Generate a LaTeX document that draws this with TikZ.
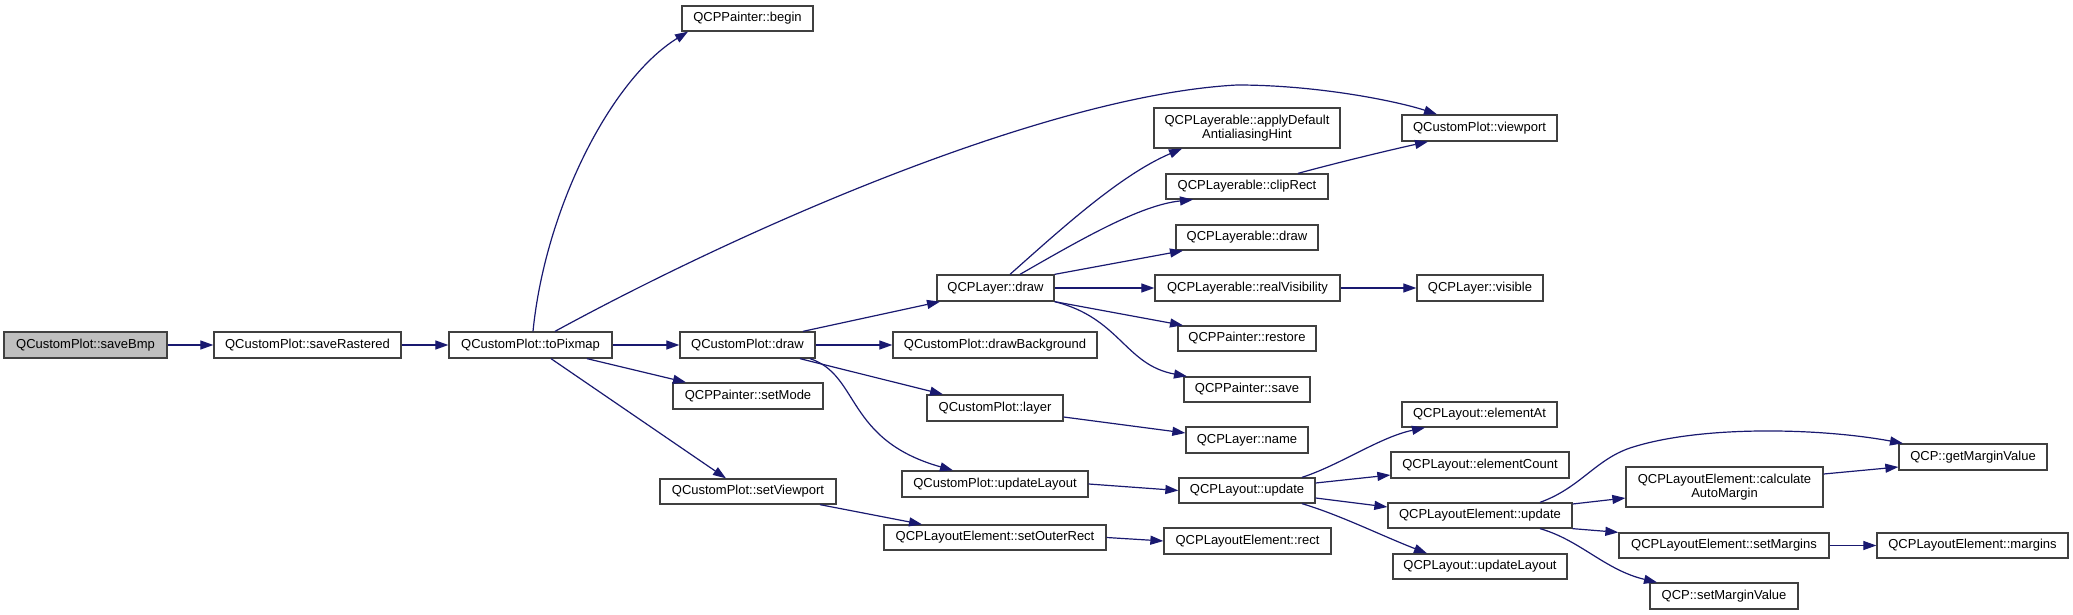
\documentclass[tikz,border=0pt]{standalone}
\usepackage{fontspec}
\setmainfont{Liberation Sans}
\usetikzlibrary{arrows.meta}
\definecolor{edgec}{HTML}{191970}
\definecolor{rootfill}{HTML}{BFBFBF}
\definecolor{boxline}{HTML}{404040}
\tikzset{
  fn/.style={draw=boxline, line width=1.3pt, fill=white, inner sep=0pt, align=center,
    font=\fontsize{13}{14.5}\selectfont, text=black},
  root/.style={fn, fill=rootfill},
  call/.style={draw=edgec, line width=1.2pt, -{Triangle[length=13pt,width=9pt]}},
}
\newcommand{\fnode}[6][fn]{\node[#1, minimum width=#4pt, minimum height=#5pt] (#2) at (#3) {#6};}
\begin{document}
\begin{tikzpicture}[x=1pt,y=-1pt]
\useasboundingbox[fill=white] (0,0) rectangle (2073,615);
% nodes
\fnode[root]{sb}{85.5,345}{163}{26}{QCustomPlot::saveBmp}
\fnode{sr}{307.5,345}{187}{26}{QCustomPlot::saveRastered}
\fnode{tp}{530.5,345}{163}{26}{QCustomPlot::toPixmap}
\fnode{pb}{747.5,18.5}{131}{25}{QCPPainter::begin}
\fnode{vp}{1479.5,128}{155}{26}{QCustomPlot::viewport}
\fnode{ad}{1247,128}{186}{40}{QCPLayerable::applyDefault\\AntialiasingHint}
\fnode{cr}{1247,186.5}{162}{25}{QCPLayerable::clipRect}
\fnode{lbd}{1247,237.5}{142}{25}{QCPLayerable::draw}
\fnode{ld}{995.5,288}{117}{26}{QCPLayer::draw}
\fnode{rv}{1247.5,288}{185}{26}{QCPLayerable::realVisibility}
\fnode{vis}{1480,288}{126}{26}{QCPLayer::visible}
\fnode{rs}{1247,338.5}{138}{25}{QCPPainter::restore}
\fnode{sv}{1247,389.5}{126}{25}{QCPPainter::save}
\fnode{cd}{747.5,345}{135}{26}{QCustomPlot::draw}
\fnode{db}{995,345}{204}{26}{QCustomPlot::drawBackground}
\fnode{sm}{748,396}{150}{26}{QCPPainter::setMode}
\fnode{ly}{995,408}{136}{26}{QCustomPlot::layer}
\fnode{nm}{1247,440}{122}{26}{QCPLayer::name}
\fnode{cul}{995,484}{186}{26}{QCustomPlot::updateLayout}
\fnode{lu}{1247,490.5}{136}{25}{QCPLayout::update}
\fnode{svp}{748,491.5}{176}{25}{QCustomPlot::setViewport}
\fnode{sor}{995,537.5}{222}{25}{QCPLayoutElement::setOuterRect}
\fnode{rc}{1247.5,541}{167}{26}{QCPLayoutElement::rect}
\fnode{ea}{1479.5,414.5}{155}{25}{QCPLayout::elementAt}
\fnode{ec}{1480,465}{178}{26}{QCPLayout::elementCount}
\fnode{leu}{1480,515.5}{184}{25}{QCPLayoutElement::update}
\fnode{lul}{1480,566.5}{174}{25}{QCPLayout::updateLayout}
\fnode{cam}{1724.5,487}{197}{40}{QCPLayoutElement::calculate\\AutoMargin}
\fnode{gmv}{1973,457}{148}{26}{QCP::getMarginValue}
\fnode{sms}{1724,545.5}{210}{25}{QCPLayoutElement::setMargins}
\fnode{mg}{1972.5,545.5}{191}{25}{QCPLayoutElement::margins}
\fnode{smv}{1724,596}{148}{26}{QCP::setMarginValue}
% edges
\draw[call] (sb.east) -- (sr.west);
\draw[call] (sr.east) -- (tp.west);
\draw[call] (tp.north -| 533,0) .. controls (545,210) and (610,80) .. (pb.south -| 688,0);
\draw[call] (tp.north -| 555,0) .. controls (750,225) and (1050,95) .. (1237,85)
   .. controls (1320,85) and (1400,102) .. (vp.north -| 1437,0);
\draw[call] (tp.east) -- (cd.west);
\draw[call] (tp.south -| 587,0) -- (sm.north -| 686,0);
\draw[call] (tp.south -| 551,0) -- (svp.north -| 726,0);
\draw[call] (cd.north -| 803,0) -- (ld.south -| 940,0);
\draw[call] (cd.east) -- (db.west);
\draw[call] (cd.south -| 800,0) -- (ly.north -| 943,0);
\draw[call] (cd.south -| 810,0) .. controls (860,375) and (845,440) .. (cul.north -| 953,0);
\draw[call] (ld.north -| 1010,0) .. controls (1060,230) and (1120,175) .. (ad.south -| 1182,0);
\draw[call] (ld.north -| 1020,0) .. controls (1080,240) and (1140,205) .. (cr.south -| 1193,0);
\draw[call] (ld.north east) -- (lbd.south -| 1183,0);
\draw[call] (ld.east) -- (rv.west);
\draw[call] (ld.south east) -- (rs.north -| 1183,0);
\draw[call] (ld.south east) .. controls (1120,318) and (1125,365) .. (sv.north -| 1187,0);
\draw[call] (cr.north -| 1298,0) .. controls (1340,162) and (1390,150) .. (vp.south -| 1428,0);
\draw[call] (rv.east) -- (vis.west);
\draw[call] (ly.east |- 0,417) -- (nm.west |- 0,433);
\draw[call] (cul.east) -- (lu.west);
\draw[call] (svp.south -| 820,0) -- (sor.north -| 922,0);
\draw[call] (sor.east) -- (rc.west);
\draw[call] (lu.north -| 1302,0) .. controls (1340,465) and (1380,437) .. (ea.south -| 1425,0);
\draw[call] (lu.east |- 0,483) -- (ec.west |- 0,475);
\draw[call] (lu.east |- 0,498) -- (leu.west |- 0,507);
\draw[call] (lu.south -| 1302,0) .. controls (1340,515) and (1380,535) .. (lul.north -| 1427,0);
\draw[call] (leu.east |- 0,504) -- (cam.west |- 0,498);
\draw[call] (leu.north -| 1540,0) .. controls (1580,488) and (1595,460) .. (1630,448)
   .. controls (1700,425) and (1820,428) .. (gmv.north -| 1903,0);
\draw[call] (cam.east |- 0,474) -- (gmv.west |- 0,467);
\draw[call] (leu.south east) -- (sms.north west);
\draw[call] (leu.south -| 1540,0) .. controls (1580,540) and (1605,570) .. (smv.north -| 1657,0);
\draw[call] (sms.east) -- (mg.west);
\end{tikzpicture}
\end{document}
